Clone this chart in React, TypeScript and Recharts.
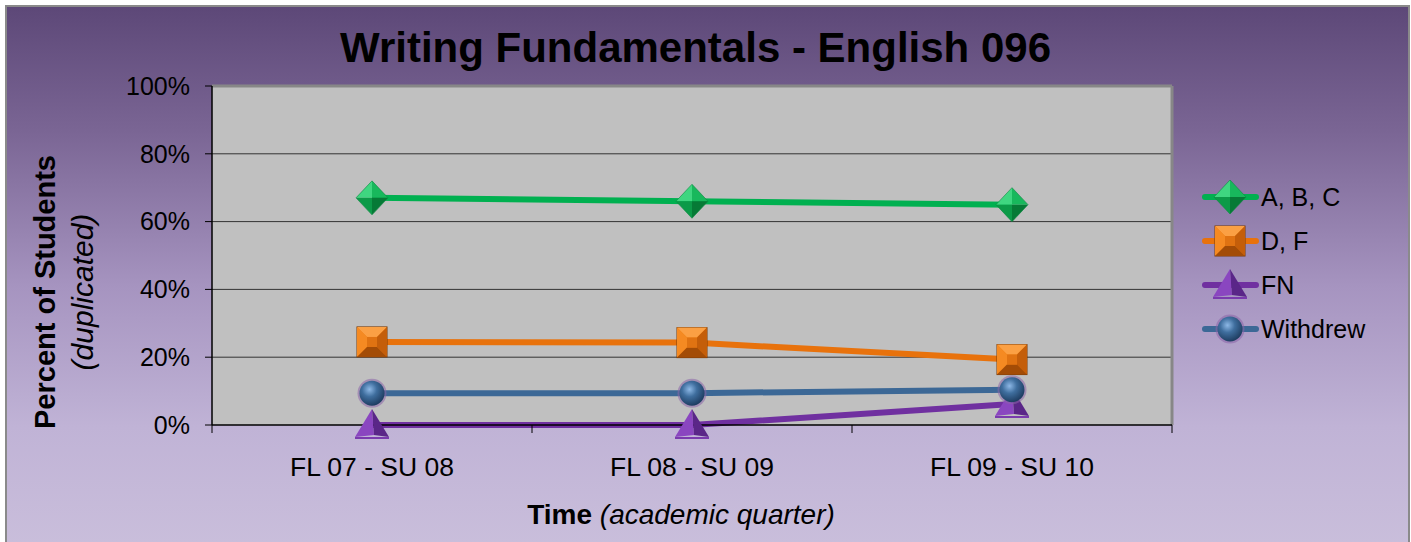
import { CartesianGrid, Line, LineChart, ReferenceLine, XAxis, YAxis } from "recharts";

const categories = ["FL 07 - SU 08", "FL 08 - SU 09", "FL 09 - SU 10"];
const abc = [67, 66, 65];
const df = [24.5, 24.3, 19.3];
const fn = [0, 0, 6.2];
const withdrew = [9.4, 9.4, 10.4];
const yTicks = [0, 20, 40, 60, 80, 100];
const xTicks = [0, 0.5, 1, 1.5, 2, 2.5, 3];

const data = categories.map((name, i) => ({
  name,
  pos: i + 0.5,
  abc: abc[i],
  df: df[i],
  fn: fn[i],
  withdrew: withdrew[i],
}));

const FONT = "'Liberation Sans', Arial, sans-serif";

const Diamond = ({ cx, cy }: any) => {
  const w = 16;
  const h = 17;
  return (
    <g>
      <polygon points={`${cx},${cy - h} ${cx - w},${cy} ${cx},${cy}`} fill="#3fd680" />
      <polygon points={`${cx},${cy - h} ${cx + w},${cy} ${cx},${cy}`} fill="#18b85c" />
      <polygon points={`${cx - w},${cy} ${cx},${cy + h} ${cx},${cy}`} fill="#0c9a48" />
      <polygon points={`${cx + w},${cy} ${cx},${cy + h} ${cx},${cy}`} fill="#067a36" />
      <polygon
        points={`${cx},${cy - h} ${cx + w},${cy} ${cx},${cy + h} ${cx - w},${cy}`}
        fill="none"
        stroke="#0a8a40"
        strokeWidth={1}
        opacity={0.6}
      />
    </g>
  );
};

const Square = ({ cx, cy }: any) => {
  const s = 15;
  const i = 5;
  return (
    <g>
      <rect x={cx - s} y={cy - s} width={2 * s} height={2 * s} fill="#e8780e" stroke="#7a3a05" strokeWidth={1} />
      <polygon points={`${cx - s},${cy - s} ${cx + s},${cy - s} ${cx + i},${cy - i} ${cx - i},${cy - i}`} fill="#fba044" />
      <polygon points={`${cx - s},${cy - s} ${cx - i},${cy - i} ${cx - i},${cy + i} ${cx - s},${cy + s}`} fill="#f58a22" />
      <polygon points={`${cx + s},${cy - s} ${cx + i},${cy - i} ${cx + i},${cy + i} ${cx + s},${cy + s}`} fill="#c45e0a" />
      <polygon points={`${cx - s},${cy + s} ${cx - i},${cy + i} ${cx + i},${cy + i} ${cx + s},${cy + s}`} fill="#a34c06" />
      <rect x={cx - i} y={cy - i} width={2 * i} height={2 * i} fill="#e07312" />
    </g>
  );
};

const Triangle = ({ cx, cy }: any) => {
  const w = 17;
  return (
    <g>
      <polygon points={`${cx},${cy - 16} ${cx - w},${cy + 12} ${cx + 2},${cy + 10}`} fill="#8a46c0" />
      <polygon points={`${cx},${cy - 16} ${cx + 2},${cy + 10} ${cx + w},${cy + 12}`} fill="#5a2688" />
      <polygon points={`${cx - w},${cy + 12} ${cx + w},${cy + 12} ${cx + w},${cy + 14} ${cx - w},${cy + 14}`} fill="#7a3aae" />
    </g>
  );
};

const Ball = ({ cx, cy }: any) => (
  <g>
    <circle cx={cx} cy={cy} r={14.5} fill="#8a64a8" opacity={0.55} />
    <circle cx={cx} cy={cy} r={12.5} fill="url(#ballGrad)" />
  </g>
);

const XTick = ({ x, y, payload }: any) => {
  const v = Number(payload.value);
  if (Number.isInteger(v)) {
    return <line x1={x} x2={x} y1={y} y2={y + 8} stroke="#000" strokeWidth={1} />;
  }
  return (
    <text x={x} y={y + 51} textAnchor="middle" fontSize={26.5} fontFamily={FONT} fill="#000">
      {categories[Math.floor(v)]}
    </text>
  );
};

const legendItems = [
  { label: "A, B, C", color: "#00b050", Marker: Diamond },
  { label: "D, F", color: "#e8720c", Marker: Square },
  { label: "FN", color: "#7030a0", Marker: Triangle },
  { label: "Withdrew", color: "#3c6896", Marker: Ball },
];

export default function App() {
  return (
    <div
      style={{
        position: "absolute",
        left: 0,
        top: 0,
        width: 1411,
        height: 542,
        background: "#fff",
        overflow: "hidden",
        fontFamily: FONT,
      }}
    >
      <div
        style={{
          position: "absolute",
          left: 5,
          top: 5,
          width: 1401,
          height: 560,
          borderLeft: "2px solid #8a8a8a",
          borderTop: "2px solid #8a8a8a",
          borderRight: "2px solid #8a8a8a",
          background: "linear-gradient(180deg, #5d4878 0%, #7a6594 22%, #a694c0 50%, #c0b3d6 75%, #cbc0dc 100%)",
        }}
      />
      <svg width={0} height={0} style={{ position: "absolute" }}>
        <defs>
          <radialGradient id="ballGrad" cx="40%" cy="35%" r="65%">
            <stop offset="0%" stopColor="#8db8e6" />
            <stop offset="45%" stopColor="#3f6e9e" />
            <stop offset="100%" stopColor="#1f3e62" />
          </radialGradient>
        </defs>
      </svg>
      <div
        style={{
          position: "absolute",
          left: 0,
          top: 24,
          width: 1391,
          textAlign: "center",
          fontSize: 42,
          fontWeight: "bold",
          color: "#000",
        }}
      >
        Writing Fundamentals - English 096
      </div>
      <div style={{ position: "absolute", left: 0, top: 0 }}>
        <LineChart width={1411} height={542} data={data} margin={{ top: 86, right: 239, bottom: 0, left: 0 }}>
          <CartesianGrid
            horizontal
            vertical={false}
            horizontalValues={[20, 40, 60, 80]}
            stroke="#333"
            strokeWidth={1}
            fill="#c0c0c0"
            fillOpacity={1}
          />
          <ReferenceLine y={100} stroke="#878787" strokeWidth={3} />
          <ReferenceLine x={3} stroke="#878787" strokeWidth={3} />
          <XAxis
            dataKey="pos"
            type="number"
            domain={[0, 3]}
            ticks={xTicks}
            interval={0}
            height={117}
            axisLine={{ stroke: "#000", strokeWidth: 1.5 }}
            tickLine={false}
            tickSize={0}
            tickMargin={0}
            tick={<XTick />}
          />
          <YAxis
            type="number"
            domain={[0, 100]}
            ticks={yTicks}
            interval={0}
            width={212}
            axisLine={{ stroke: "#000", strokeWidth: 1.5 }}
            tickLine={{ stroke: "#000" }}
            tickSize={7}
            tickMargin={15}
            tickFormatter={(v: number) => `${v}%`}
            tick={{ fontSize: 25, fill: "#000", fontFamily: FONT }}
          />
          <Line dataKey="abc" stroke="#00b050" strokeWidth={6} dot={<Diamond />} isAnimationActive={false} />
          <Line dataKey="df" stroke="#e8720c" strokeWidth={6} dot={<Square />} isAnimationActive={false} />
          <Line dataKey="fn" stroke="#7030a0" strokeWidth={6} dot={<Triangle />} isAnimationActive={false} />
          <Line dataKey="withdrew" stroke="#3c6896" strokeWidth={6} dot={<Ball />} isAnimationActive={false} />
        </LineChart>
      </div>
      <div
        style={{
          position: "absolute",
          left: 0,
          top: 515,
          width: 1362,
          textAlign: "center",
          fontSize: 28,
          color: "#000",
          transform: "translateY(-50%)",
        }}
      >
        <b>Time</b> <i>(academic quarter)</i>
      </div>
      <div
        style={{
          position: "absolute",
          left: 64,
          top: 292,
          width: 400,
          textAlign: "center",
          fontSize: 29,
          lineHeight: "38px",
          color: "#000",
          transform: "translate(-50%, -50%) rotate(-90deg)",
        }}
      >
        <div style={{ fontWeight: "bold" }}>Percent of Students</div>
        <div style={{ fontStyle: "italic", fontSize: 30 }}>(duplicated)</div>
      </div>
      <div style={{ position: "absolute", left: 1200, top: 175 }}>
        {legendItems.map(({ label, color, Marker }) => (
          <div key={label} style={{ display: "flex", alignItems: "center", height: 44 }}>
            <svg width={60} height={44}>
              <line x1={5} x2={56} y1={22} y2={22} stroke={color} strokeWidth={6} strokeLinecap="round" />
              <Marker cx={30} cy={22} />
            </svg>
            <span style={{ fontSize: 25, color: "#000", marginLeft: 1 }}>{label}</span>
          </div>
        ))}
      </div>
    </div>
  );
}
